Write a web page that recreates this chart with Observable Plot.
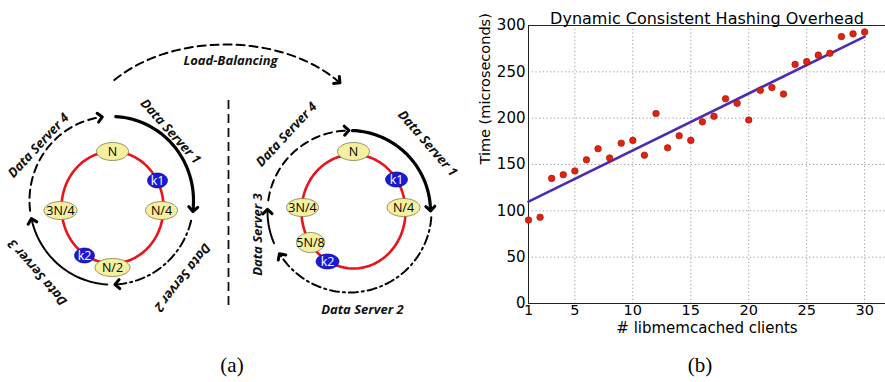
<!DOCTYPE html>
<html><head><meta charset="utf-8">
<script src="https://cdn.jsdelivr.net/npm/d3@7"></script>
<script src="https://cdn.jsdelivr.net/npm/@observablehq/plot@0.6"></script>
<style>
body{margin:0;background:#fff;}
#wrap{position:relative;width:885px;height:382px;overflow:hidden;background:#fff;}
#diagram{position:absolute;left:0;top:0;}
#chart{position:absolute;left:470px;top:0;}
.cap{position:absolute;top:355px;font-family:"Liberation Serif",serif;font-size:21px;line-height:21px;transform:translateX(-50%);}
</style></head><body>
<div id="wrap"><div id="diagram"></div><div id="chart"></div>
<div class="cap" style="left:232px">(a)</div><div class="cap" style="left:700px">(b)</div></div>
<script>
// ---------- (b) chart data ----------
const clients = [1,2,3,4,5,6,7,8,9,10,11,12,13,14,15,16,17,18,19,20,21,22,23,24,25,26,27,28,29,30];
const timeUs  = [90,93,135,139,143,155,167,157,173,176,160,205,168,181,176,196,202,221,216,198,230,233,226,258,261,268,270,288,291,293];
const fitClients = [1,30];
const fitTime = [110,288];
const xTicks = [1,5,10,15,20,25,30];
const yTicks = [0,50,100,150,200,250,300];
const chartTitle = "Dynamic Consistent Hashing Overhead";
const xLabel = "# libmemcached clients";
const yLabel = "Time (microseconds)";

// ---------- (a) diagram data ----------
const hashRings = [
  {id:"L", cx:112, cy:207, rx:51, ry:56},
  {id:"R", cx:353, cy:211, rx:52, ry:57}
];
const ringNodes = [
  {label:"N",    x:112, y:151, w:32, h:18, kind:"hash"},
  {label:"N/4",  x:161, y:210, w:32, h:18, kind:"hash"},
  {label:"N/2",  x:112, y:267, w:35, h:18, kind:"hash"},
  {label:"3N/4", x:60,  y:210, w:33, h:18, kind:"hash"},
  {label:"k1",   x:157, y:180, w:20, h:15, kind:"key"},
  {label:"k2",   x:84,  y:255, w:20, h:15, kind:"key"},
  {label:"N",    x:353, y:151, w:32, h:18, kind:"hash"},
  {label:"N/4",  x:403, y:207, w:33, h:18, kind:"hash"},
  {label:"3N/4", x:302, y:207, w:32, h:18, kind:"hash"},
  {label:"5N/8", x:310, y:242, w:28, h:20, kind:"hash"},
  {label:"k1",   x:396, y:179, w:22, h:15, kind:"key"},
  {label:"k2",   x:327, y:261, w:23, h:15, kind:"key"}
];
const serverArcs = [
  {id:"L1", cx:111, cy:200, rx:82, ry:84, from:-87, to:6,   style:"thick"},
  {id:"L2", cx:111, cy:200, rx:82, ry:84, from:14,  to:86,  style:"dashdot"},
  {id:"L3", cx:111, cy:200, rx:82, ry:84, from:93,  to:166, style:"thin"},
  {id:"L4", cx:111, cy:200, rx:82, ry:84, from:173, to:262, style:"dashed"},
  {id:"R1", cx:349, cy:211, rx:81, ry:81, from:-88, to:-2,  style:"thick"},
  {id:"R2", cx:349, cy:211, rx:82, ry:81, from:4,   to:147, style:"dashdot"},
  {id:"R3", cx:349, cy:211, rx:82, ry:81, from:157, to:180, style:"thin"},
  {id:"R4", cx:349, cy:211, rx:82, ry:81, from:188, to:268, style:"dashed"},
  {id:"LB", cx:225, cy:140, rx:143, ry:96, from:219, to:322, style:"dashed"}
];
const separator = [{x:228, y1:100, y2:310}];
const diagramLabels = [
  {text:"Load-Balancing", x:230, y:60,  rotate:0},
  {text:"Data Server 1",  x:170, y:131, rotate:48},
  {text:"Data Server 2",  x:182, y:277, rotate:128},
  {text:"Data Server 3",  x:37,  y:272, rotate:-131},
  {text:"Data Server 4",  x:38,  y:145, rotate:-47},
  {text:"Data Server 1",  x:427, y:143, rotate:49},
  {text:"Data Server 2",  x:362, y:309, rotate:0},
  {text:"Data Server 3",  x:257, y:234, rotate:-90},
  {text:"Data Server 4",  x:286, y:134, rotate:-47}
];

// ---------- geometry helpers ----------
function ellipsePts(id, cx, cy, rx, ry, n = 60) {
  return d3.range(n).map(i => {
    const t = 2 * Math.PI * i / n;
    return {id, x: cx + rx * Math.cos(t), y: cy + ry * Math.sin(t)};
  });
}
function arcPts(a) {
  const pts = [];
  const steps = Math.max(8, Math.round(Math.abs(a.to - a.from) / 2));
  for (let i = 0; i <= steps; i++) {
    const t = (a.from + (a.to - a.from) * i / steps) * Math.PI / 180;
    pts.push({id: a.id, style: a.style, x: a.cx + a.rx * Math.cos(t), y: a.cy + a.ry * Math.sin(t)});
  }
  return pts;
}
const arcPoints = serverArcs.flatMap(arcPts);
const ringPoints = hashRings.flatMap(r => ellipsePts(r.id, r.cx, r.cy, r.rx, r.ry, 90));
const nodePoints = ringNodes.flatMap((n, i) => ellipsePts("n" + i, n.x, n.y, n.w / 2, n.h / 2, 40).map(p => ({...p, kind: n.kind})));

const labelFont = {fontFamily: "Open Sans", fontWeight: "bold", fontStyle: "italic", fontSize: 13, fill: "#111"};

const diagram = Plot.plot({
  width: 470, height: 382, margin: 0,
  x: {domain: [0, 470], range: [0, 470], axis: null},
  y: {domain: [0, 382], range: [0, 382], axis: null},
  style: {background: "#fff"},
  marks: [
    Plot.ruleX(separator, {x: "x", y1: "y1", y2: "y2", stroke: "#111", strokeWidth: 1.8, strokeDasharray: "9,5"}),
    Plot.line(arcPoints.filter(d => d.style === "thick"), {x: "x", y: "y", z: "id", stroke: "#000", strokeWidth: 3.2, markerEnd: "arrow"}),
    Plot.line(arcPoints.filter(d => d.style === "thin"), {x: "x", y: "y", z: "id", stroke: "#000", strokeWidth: 2, markerEnd: "arrow"}),
    Plot.line(arcPoints.filter(d => d.style === "dashed"), {x: "x", y: "y", z: "id", stroke: "#000", strokeWidth: 2, strokeDasharray: "8,5", markerEnd: "arrow"}),
    Plot.line(arcPoints.filter(d => d.style === "dashdot"), {x: "x", y: "y", z: "id", stroke: "#000", strokeWidth: 2, strokeDasharray: "9,4,2,4", markerEnd: "arrow"}),
    Plot.line(ringPoints, {x: "x", y: "y", z: "id", curve: "linear-closed", stroke: "#e8141c", strokeWidth: 2.6}),
    Plot.line(nodePoints.filter(d => d.kind === "hash"), {x: "x", y: "y", z: "id", curve: "linear-closed", fill: "#f6f09e", stroke: "#7a7a50", strokeWidth: 0.8}),
    Plot.line(nodePoints.filter(d => d.kind === "key"), {x: "x", y: "y", z: "id", curve: "linear-closed", fill: "#1a1ad6", stroke: "#0a0a80", strokeWidth: 0.6}),
    Plot.text(ringNodes.filter(d => d.kind === "hash"), {x: "x", y: "y", text: "label", fontFamily: "Open Sans", fontSize: 12.5, fill: "#000"}),
    Plot.text(ringNodes.filter(d => d.kind === "key"), {x: "x", y: "y", text: "label", fontFamily: "Open Sans", fontSize: 12.5, fill: "#fff"}),
    Plot.text(diagramLabels, {x: "x", y: "y", text: "text", rotate: "rotate", ...labelFont})
  ]
});
diagram.querySelectorAll("marker").forEach(m => {
  m.setAttribute("stroke-dasharray", "none");
  m.setAttribute("markerUnits", "userSpaceOnUse");
  m.setAttribute("markerWidth", "15");
  m.setAttribute("markerHeight", "15");
  m.setAttribute("stroke-width", "2");
});
document.getElementById("diagram").append(diagram);

// ---------- (b) chart ----------
const points = clients.map((c, i) => ({c, t: timeUs[i]}));
const fit = fitClients.map((c, i) => ({c, t: fitTime[i]}));
const chart = Plot.plot({
  width: 415, height: 340,
  marginLeft: 58, marginRight: 0, marginTop: 25, marginBottom: 37,
  x: {domain: [1, 31.8], label: null},
  y: {domain: [0, 300], label: null},
  style: {fontFamily: "DejaVu Sans", fontSize: "15px", color: "#000", background: "#fff"},
  marks: [
    Plot.gridX(xTicks.slice(1), {stroke: "#9a9a9a", strokeOpacity: 1, strokeDasharray: "1.2,2.5"}),
    Plot.gridY(yTicks.slice(1, -1), {stroke: "#9a9a9a", strokeOpacity: 1, strokeDasharray: "1.2,2.5"}),
    Plot.axisX({ticks: xTicks, tickSize: 0, tickPadding: 1, fontSize: 14.5, label: null, tickFormat: d => String(d)}),
    Plot.axisY({ticks: yTicks, tickSize: 0, tickPadding: 3, fontSize: 15, label: null}),
    Plot.ruleY([0, 300], {stroke: "#222", strokeWidth: 1}),
    Plot.ruleX([1], {stroke: "#222", strokeWidth: 1}),
    Plot.line(fit, {x: "c", y: "t", stroke: "#4b2bb4", strokeWidth: 2.6}),
    Plot.dot(points, {x: "c", y: "t", r: 3.3, fill: "#e0230f", stroke: "#9a1505", strokeWidth: 0.6}),
    Plot.text([chartTitle], {text: d => d, frameAnchor: "top", dy: -13, fontSize: 16}),
    Plot.text([xLabel], {text: d => d, frameAnchor: "bottom", dy: 29, fontSize: 15}),
    Plot.text([yLabel], {text: d => d, frameAnchor: "left", dx: -43, rotate: -90, fontSize: 14.5})
  ]
});
document.getElementById("chart").append(chart);
</script>
</body></html>
